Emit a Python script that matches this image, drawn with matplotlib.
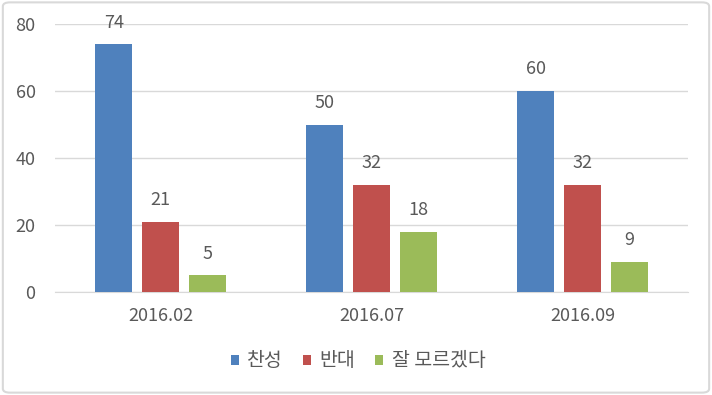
import matplotlib.pyplot as plt
import numpy as np
from matplotlib.patches import FancyBboxPatch

periods = ["2016.02", "2016.07", "2016.09"]
series_names = ["찬성", "반대", "잘 모르겠다"]
agree = [74, 50, 60]
disagree = [21, 32, 32]
unsure = [5, 18, 9]
colors = ["#4F81BD", "#C0504D", "#9BBB59"]

plt.rcParams['font.family'] = ['Noto Sans CJK KR', 'DejaVu Sans']
text_color = "#595959"
fs = 13

fig = plt.figure(figsize=(7.12, 3.95), dpi=100)
ax = fig.add_axes([55 / 712, 103 / 395, 633 / 712, 268 / 395])

x = np.arange(len(periods))
width = 0.175
offset = 0.222
for i, (vals, name) in enumerate(zip([agree, disagree, unsure], series_names)):
    bars = ax.bar(x + (i - 1) * offset, vals, width, color=colors[i], label=name, zorder=3)
    for b, v in zip(bars, vals):
        ax.annotate(str(v), (b.get_x() + b.get_width() / 2, v), xytext=(0, 9),
                    textcoords="offset points", ha="center", va="bottom",
                    fontsize=fs, color=text_color)

ax.set_xlim(-0.5, 2.5)
ax.set_ylim(0, 80)
ax.set_yticks([0, 20, 40, 60, 80])
ax.set_xticks(x)
ax.set_xticklabels(periods)
ax.tick_params(axis="both", length=0, labelsize=fs, colors=text_color)
ax.tick_params(axis="x", pad=11)
ax.tick_params(axis="y", pad=14)
ax.grid(axis="y", color="#D9D9D9", linewidth=1, zorder=0)
for s in ["top", "right", "left"]:
    ax.spines[s].set_visible(False)
ax.spines["bottom"].set_color("#D9D9D9")

leg = fig.legend(loc="center", bbox_to_anchor=(358 / 712, 1 - 361 / 395), ncol=3,
                 frameon=False, fontsize=14, handlelength=0.42, handleheight=0.42,
                 handletextpad=0.45, columnspacing=1.0)
for t in leg.get_texts():
    t.set_color(text_color)

border = FancyBboxPatch((0.004, 0.006), 0.992, 0.988, boxstyle="round,pad=0,rounding_size=0.01",
                        transform=fig.transFigure, fill=False, edgecolor="#D9D9D9", linewidth=1.5)
fig.patches.append(border)

fig.savefig("out.png", dpi=100)
